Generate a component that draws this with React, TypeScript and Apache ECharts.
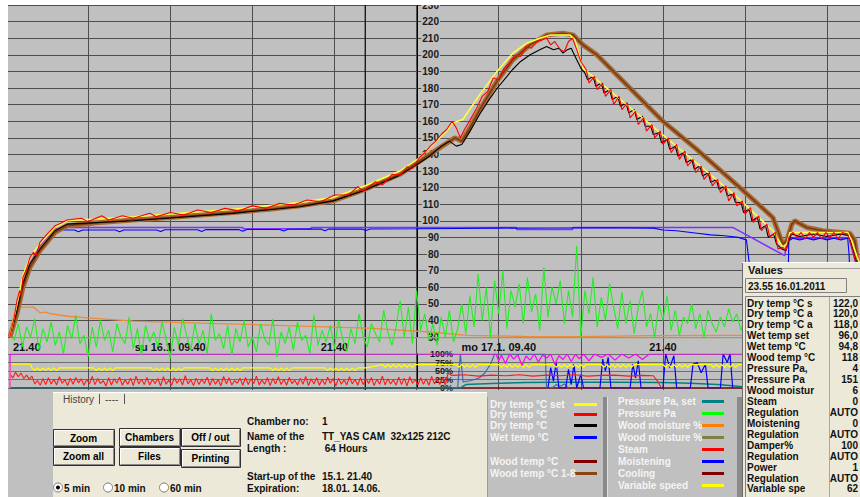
import React, { useEffect, useRef } from "react";
import * as echarts from "echarts";

const FONT = '"Liberation Sans", Arial, Helvetica, sans-serif';

// ---- time axis: hours since start-up (15.1. 21.40)
const X_MAX = 62.4;
const timeTickHours = [0, 12, 24, 36, 48];
const timeTickLabels = ["21.40", "su 16.1. 09.40", "21.40", "mo 17.1. 09.40", "21.40"];
const CURSOR_HOUR = 26.25;

// ---- main temperature chart (°C / Pa / %)
const dryTempSet = [
  [0.29, 30], [0.8, 50], [1.24, 67], [1.75, 78], [2.48, 86], [3.58, 96], [4.46, 100], [9.28, 102.5],
  [16.58, 107], [21.48, 111], [23.89, 114], [26.08, 120.5], [28.78, 130], [30.24, 138], [30.97, 144],
  [32.2, 154], [32.65, 159], [33.38, 161], [34.62, 176], [35.87, 190], [37.03, 201], [38.06, 207],
  [39.0, 210], [39.8, 212], [41.2, 212], [41.57, 209], [42.15, 192], [47.0, 158.6], [52.89, 118],
  [53.6, 113], [56.03, 94], [56.76, 84], [57.05, 86], [57.27, 93], [61.5, 93], [61.8, 88], [62.2, 78], [62.4, 74],
];

const dryTempA = [
  [0.29, 30], [0.6, 42], [0.8, 52], [1.0, 58], [1.1, 55], [1.24, 66], [1.5, 71], [1.75, 78], [2.0, 81], [2.2, 79],
  [2.48, 87], [3.0, 92], [3.58, 97], [4.0, 98.5], [4.46, 100.5], [5.5, 101.5], [6.0, 99.5], [7.0, 103], [7.5, 100.5],
  [8.5, 103], [9.3, 101.5], [10.5, 104.5], [11.0, 102.5], [12.0, 105], [13.0, 103.5], [14.0, 106.5], [15.0, 105],
  [16.0, 107.5], [17.0, 106], [18.0, 109], [19.0, 107.5], [20.0, 110.5], [21.0, 109.5], [22.0, 112.5], [23.0, 111.5],
  [24.0, 115.5], [25.0, 115.5], [25.7, 120.5], [26.1, 118], [27.0, 123.5], [27.5, 121.5], [28.2, 128], [28.8, 127.5],
  [29.3, 132.5], [29.7, 131.5], [30.2, 138], [30.6, 141], [31.0, 145], [31.4, 148], [31.8, 152], [32.2, 155],
  [32.6, 160], [32.9, 156], [33.2, 150], [33.5, 155], [34.0, 162], [34.4, 168], [34.8, 175], [35.2, 178], [35.6, 186],
  [36.0, 185], [36.4, 192], [36.8, 195], [37.2, 200], [37.6, 199], [38.0, 205], [38.4, 204], [38.8, 208], [39.2, 209],
  [39.5, 210], [39.8, 206], [40.1, 208], [40.5, 203], [40.8, 202], [41.1, 208], [41.4, 210], [41.71, 203], [42.0, 196],
  [42.4, 191], [42.6, 183], [43.0, 187], [43.2, 179], [43.6, 183], [43.8, 175], [44.2, 179], [44.4, 170], [44.8, 175],
  [45.0, 167], [45.4, 171], [45.6, 162], [46.0, 166], [46.2, 158], [46.6, 162], [46.8, 154], [47.2, 158], [47.4, 150],
  [47.8, 154], [48.0, 146], [48.4, 150], [48.6, 141], [49.0, 146], [49.2, 137], [49.6, 142], [49.8, 133], [50.2, 137],
  [50.4, 129], [50.8, 133], [51.0, 125], [51.4, 129], [51.6, 121], [52.0, 125], [52.2, 117], [52.6, 121], [52.8, 112],
  [53.2, 117], [53.4, 109], [53.8, 112], [54.0, 104], [54.4, 108], [54.6, 99], [55.0, 103], [55.2, 94], [55.6, 98],
  [55.8, 90], [56.2, 93], [56.4, 83], [56.76, 84], [57.0, 82], [57.2, 90], [57.5, 93], [57.8, 90], [58.1, 93],
  [58.4, 89], [58.7, 93], [59.0, 90], [59.3, 93], [59.6, 89], [59.9, 93], [60.2, 90], [60.5, 93], [60.8, 89],
  [61.1, 93], [61.5, 92], [61.8, 84], [62.2, 72],
];

const dryTempB = [
  [0.29, 30], [0.8, 46], [1.24, 62], [1.75, 74], [2.48, 83], [3.58, 94], [4.46, 98], [9.28, 100], [16.58, 104.5],
  [21.48, 108.5], [23.89, 112], [26.08, 118], [28.78, 127.5], [30.24, 135], [30.97, 139], [31.8, 145], [32.4, 148],
  [32.9, 145], [33.3, 146], [33.9, 154], [34.6, 164], [35.3, 173], [35.9, 180], [36.5, 186], [37.0, 191], [37.6, 196],
  [38.3, 200], [39.0, 203], [39.5, 205], [40.0, 203], [40.4, 204], [40.7, 201], [41.0, 203], [41.3, 204], [41.7, 197],
  [42.0, 192], [42.3, 189], [42.5, 185], [42.9, 187], [43.1, 181], [43.5, 183], [43.7, 177], [44.1, 179], [44.3, 173],
  [44.7, 175], [44.9, 169], [45.3, 171], [45.5, 165], [45.9, 167], [46.1, 161], [46.5, 163], [46.7, 157], [47.1, 157],
  [47.3, 152], [47.7, 153], [47.9, 147], [48.3, 149], [48.5, 143], [48.9, 145], [49.1, 139], [49.5, 141], [49.7, 135],
  [50.1, 137], [50.3, 131], [50.7, 133], [50.9, 127], [51.3, 129], [51.5, 123], [51.9, 125], [52.1, 119], [52.5, 121],
  [52.7, 115], [53.1, 116], [53.3, 111], [53.7, 111], [53.9, 105], [54.3, 107], [54.5, 100], [54.9, 102], [55.1, 95],
  [55.5, 97], [55.7, 90], [56.1, 92], [56.3, 86], [56.7, 83], [57.0, 82], [57.2, 88], [57.4, 92], [58.0, 90.5],
  [59.0, 92], [60.0, 90.5], [61.0, 92], [61.6, 91], [61.9, 82], [62.3, 70],
];

const wetTempSet = [
  [0.29, 30], [0.8, 47], [1.24, 62], [1.75, 74], [2.48, 85], [3.2, 92], [3.58, 95], [4.2, 96], [17.3, 96],
  [17.31, 95.2], [22.3, 95.2], [22.31, 96], [37.3, 96], [37.31, 94.8], [41.4, 94.8], [41.41, 96], [53.1, 96],
  [56.9, 79], [57.1, 89.5], [61.6, 89.5], [62.3, 68],
];

const wetTemp = [
  [0.29, 30], [0.8, 45], [1.24, 60], [1.75, 72], [2.48, 83], [3.2, 91], [3.58, 93.5], [4.2, 94.5], [5.0, 94.5],
  [5.3, 93.4], [5.6, 94.5], [8.0, 94.5], [8.3, 93.4], [8.6, 94.5], [11.0, 94.5], [11.3, 93.5], [11.6, 94.6],
  [14.0, 94.6], [14.3, 93.6], [14.6, 94.7], [17.0, 94.7], [17.3, 93.7], [17.6, 94.8], [20.0, 94.8], [20.3, 93.8],
  [20.6, 94.9], [23.0, 95], [23.3, 94], [23.6, 95], [26.0, 95], [26.3, 94.2], [26.6, 95.1], [30.0, 95.2],
  [33.0, 95.4], [36.0, 95.6], [40.0, 95.7], [44.0, 95.8], [47.3, 95.6], [48.0, 94.5], [49.0, 94], [50.5, 92.5],
  [51.5, 91.5], [52.5, 91], [53.5, 90], [54.1, 88.5], [54.3, 75], [54.5, 55], [55.0, 40], [57.1, 45], [57.2, 88],
  [57.5, 89.5], [58.0, 88.5], [58.5, 89.5], [59.0, 88.5], [59.5, 89.5], [60.0, 88.5], [60.5, 89.5], [61.0, 88.5],
  [61.5, 89.5], [61.6, 80], [61.7, 60], [62.0, 40],
];

const woodTemp18 = [
  [0.29, 30], [0.8, 44], [1.24, 60], [1.75, 72], [2.48, 82], [3.58, 93], [4.46, 97], [6.87, 99], [9.28, 100.5],
  [11.98, 102], [16.58, 105], [19.28, 107], [21.48, 109], [23.89, 112], [26.08, 118.5], [28.78, 128], [30.24, 136],
  [30.97, 140], [32.07, 146], [32.8, 150], [33.31, 148], [33.9, 156], [34.62, 167], [35.87, 184], [37.03, 197],
  [38.28, 206], [39.52, 212], [40.69, 213], [41.42, 212], [42.15, 206], [43.17, 200], [45.58, 180], [47.99, 160],
  [50.47, 143], [53.62, 120], [56.03, 102], [56.76, 86], [57.05, 88], [57.42, 98], [57.63, 100], [58.5, 96],
  [59.68, 94], [61.65, 92.5], [62.02, 88], [62.24, 75], [62.4, 70],
];

const woodMoisture = [
  [0.29, 31], [0.55, 42], [0.75, 47], [1.0, 48], [2.0, 48], [2.3, 46], [2.5, 44.5], [2.9, 45], [3.3, 44],
  [4.5, 42.5], [6.0, 41.5], [9.3, 39.6], [14.2, 38.4], [21.5, 36.6], [26.4, 35.4], [30.97, 33], [33.7, 31],
  [38.0, 30.3], [42.0, 30.2], [47.0, 30.8], [53.0, 31], [56.0, 31],
];

const woodMoisture2 = [[0.29, 29.6], [62.4, 29.6]];

// Pressure Pa, logged every 0.3 h from 0.3 h
const PRESSURE_START = 0.3;
const PRESSURE_STEP = 0.3;
const pressurePa = [
  34, 28, 38, 24, 36, 30, 41, 22, 35, 27, 39, 25, 33, 20, 37, 29, 43, 26, 31, 18,
  36, 24, 40, 28, 34, 21, 38, 30, 26, 42, 23, 35, 19, 37, 27, 33, 24, 39, 29, 17,
  36, 25, 41, 31, 22, 38, 26, 34, 20, 44, 28, 32, 23, 37, 19, 35, 27, 40, 24, 30,
  21, 38, 29, 25, 41, 18, 33, 26, 36, 22, 39, 28, 31, 20, 43, 25, 34, 27, 37, 23,
  40, 29, 21, 35, 26, 44, 30, 24, 38, 32, 27, 46, 33, 25,
  36, 52, 30, 48, 26, 58, 34, 44, 28,
  38, 25, 42, 30, 46, 27, 35, 50,
  32, 55, 36, 68, 40, 60, 30, 64, 44, 70, 35, 58,
  48, 62, 38, 66, 45, 56, 34, 72, 42, 60, 50, 64, 38, 58,
  42, 85, 30, 58, 44, 66, 36, 54, 40, 62, 48, 35, 57,
  38, 52, 32, 48, 58, 36, 44, 30, 50, 40, 55, 34, 46, 31, 42, 38, 50,
  35, 44, 30, 46, 38, 33, 42, 36, 47, 39, 44, 34, 41, 45,
];

// ---- lower percent strip (0..100 %)
const percentMajorTicks = [0, 50, 100];
const percentMinorTicks = [25, 75];

const damper = [
  [0.29, 0], [0.3, 100], [35.8, 100], [36.0, 80], [36.2, 96], [36.5, 72], [36.8, 100], [37.1, 85], [37.4, 98],
  [37.7, 66], [38.0, 94], [38.3, 82], [38.6, 100], [38.9, 76], [39.2, 97], [39.5, 88], [39.8, 100], [40.1, 70],
  [40.4, 95], [40.7, 84], [41.0, 100], [41.3, 78], [41.6, 99], [41.9, 86], [42.2, 100], [42.6, 80], [43.0, 100],
  [43.5, 90], [44.0, 100], [44.5, 82], [45.0, 100], [45.5, 88], [46.0, 100], [46.5, 84], [47.0, 100], [62.4, 100],
];

const variableSpeed = [
  [0.29, 0], [0.3, 70], [1.8, 70], [1.9, 59],
  [2.1, 51], [2.3, 59], [2.5, 51], [2.7, 59], [2.9, 51], [3.1, 59], [3.3, 51], [3.5, 59], [3.7, 51], [3.9, 59],
  [6.4, 59], [6.6, 51], [6.8, 59], [7.0, 51], [7.2, 59], [7.4, 51], [7.6, 59], [7.8, 51], [8.0, 59],
  [10.6, 59], [10.8, 51], [11.0, 59], [11.2, 51], [11.4, 59], [11.6, 51], [11.8, 59], [12.0, 51], [12.2, 59],
  [12.4, 51], [12.6, 59], [12.8, 51], [13.0, 59],
  [14.9, 59], [15.1, 51], [15.3, 59], [15.5, 51], [15.7, 59], [15.9, 51], [16.1, 59], [16.3, 51], [16.5, 59],
  [16.7, 51], [16.9, 59], [17.1, 51], [17.3, 59],
  [19.3, 59], [19.5, 51], [19.7, 59], [19.9, 51], [20.1, 59], [20.3, 51], [20.5, 59], [20.7, 51], [20.9, 59],
  [23.3, 59], [23.5, 51], [23.7, 59], [23.9, 51], [24.1, 59], [24.3, 51], [24.5, 59], [24.7, 51], [24.9, 59],
  [25.1, 51], [25.3, 59], [25.5, 51], [25.7, 59],
  [26.3, 59], [27.5, 69],
  [27.7, 61], [27.9, 69], [28.1, 61], [28.3, 69], [28.5, 61], [28.7, 69], [28.9, 61], [29.1, 69], [29.3, 61],
  [29.5, 69], [29.7, 61], [29.9, 69],
  [32.9, 69], [33.1, 61], [33.3, 69], [33.5, 61], [33.7, 69], [33.9, 61], [34.1, 69], [34.3, 61], [34.5, 69],
  [36.0, 69], [36.2, 61], [36.4, 69], [36.6, 61], [36.8, 69], [37.0, 61], [37.2, 69], [37.4, 61], [37.6, 69],
  [37.8, 61], [38.0, 69], [38.2, 61], [38.4, 69],
  [40.0, 69], [40.2, 61], [40.4, 69], [40.6, 61], [40.8, 69], [41.0, 61], [41.2, 69], [41.4, 61], [41.6, 69],
  [41.8, 61], [42.0, 69], [42.2, 61], [42.4, 69],
  [43.5, 69], [43.7, 61], [43.9, 69], [44.1, 61], [44.3, 69], [44.5, 61], [44.7, 69], [44.9, 61], [45.1, 69],
  [45.3, 61], [45.5, 69], [45.7, 61], [45.9, 69],
  [48.0, 69], [48.2, 61], [48.4, 69], [48.6, 61], [48.8, 69], [49.0, 61], [49.2, 69], [49.4, 61], [49.6, 69],
  [49.8, 61], [50.0, 69],
  [51.5, 69], [51.7, 61], [51.9, 69], [52.1, 61], [52.3, 69], [52.5, 61], [52.7, 69], [52.9, 61], [53.1, 69],
  [53.3, 61], [53.5, 69], [62.4, 69],
];

// Steam %, logged every 0.2 h from 0.3 h, then the later part
const STEAM_START = 0.3;
const STEAM_STEP = 0.2;
const steamLeft = [
  40, 30, 46, 33, 44, 28, 38, 26, 35, 12,
  22, 8, 28, 10, 30, 12, 26, 9, 33, 14, 24, 7, 29, 11, 31, 15, 27, 8, 25, 12,
  34, 10, 28, 13, 22, 6, 30, 9, 27, 14, 32, 8, 24, 11, 29, 7, 35, 12, 26, 10,
  31, 9, 25, 13, 28, 6, 33, 11, 23, 8, 30, 14, 27, 9, 36, 12, 24, 7, 29, 10,
  26, 13, 32, 8, 28, 11, 25, 6, 34, 12, 30, 9, 22, 14, 29, 8, 31, 10, 27, 13,
  35, 9, 24, 11, 30, 7, 28, 12, 33, 10, 26, 8, 31, 13, 23, 9, 29, 11, 34, 7,
  27, 12, 30, 8, 25, 10, 32, 14, 28, 6, 29, 11, 24, 9, 33, 12, 26, 8, 30, 10,
  28, 13, 31, 7, 26, 11, 35, 9, 27, 12, 24, 8, 32, 10, 29, 6, 33, 14, 25, 9,
  30, 11, 27, 8, 34, 12, 28, 10, 31, 9, 44, 38,
];
const steamRight = [
  [32.7, 37], [33.5, 39], [34.5, 35], [35.5, 38], [36.5, 36], [37.5, 39], [38.5, 35], [39.5, 38], [40.5, 36],
  [41.5, 39], [42.5, 35], [43.5, 37], [44.5, 38], [45.5, 35], [46.5, 37], [47.3, 36], [47.6, 20], [47.9, 0],
];

const pressureSet = [
  [0.29, 0], [33.2, 0], [33.6, 10], [34.5, 12], [36.0, 14], [38.0, 16], [40.0, 17], [44.0, 17], [48.0, 16],
  [50.0, 14], [52.0, 10], [53.5, 5], [54.5, 2], [62.4, 2],
];

const valve = [
  [32.6, 0], [33.0, 0], [33.2, 100], [33.4, 18], [34.0, 22], [34.6, 30], [35.0, 45], [35.4, 70], [35.7, 100],
  [39.4, 100], [39.5, 0], [39.9, 0], [40.2, 10], [40.5, 5], [40.8, 12], [41.1, 0],
];

const moistening = [
  [39.6, 0], [39.8, 60], [40.0, 20], [40.2, 75], [40.4, 0], [40.9, 0], [41.1, 55], [41.3, 10], [41.5, 70], [41.7, 0],
  [42.0, 40], [42.2, 0], [43.4, 0], [43.6, 85], [43.8, 50], [44.0, 90], [44.2, 0], [45.6, 0], [45.8, 70], [46.0, 30],
  [46.2, 80], [46.4, 0], [48.0, 0], [48.2, 100], [48.5, 60], [48.8, 95], [49.0, 0], [50.0, 0], [50.2, 70], [50.5, 75],
  [50.8, 45], [51.1, 70], [51.3, 0], [52.2, 0], [52.4, 100], [52.7, 75], [52.9, 100], [53.1, 0],
];

const cooling = [[0.29, 0], [62.4, 0]];

// ---- panels
const legendLeft = ["Dry temp °C set", "Dry temp °C", "Dry temp °C", "Wet temp °C", "", "Wood temp °C", "Wood temp °C 1-8"];
const legendLeftColors = ["#ffff00", "#ff0000", "#000000", "#0000ff", "", "#800000", "#8b4513"];
const legendLeftY = [404, 414, 425, 437, 449, 461, 473];
const legendRight = ["Pressure Pa, set", "Pressure Pa", "Wood moisture %", "Wood moisture %", "Steam", "Moistening", "Cooling", "Variable speed"];
const legendRightColors = ["#008080", "#00ff00", "#ff8000", "#808040", "#ff0000", "#0000ff", "#800000", "#ffff00"];
const legendRightY = [401, 413, 425, 437, 449, 461, 473, 485];

const valueNames = [
  "Dry temp °C s", "Dry temp °C a", "Dry temp °C a", "Wet temp set", "Wet temp °C", "Wood temp °C", "Pressure Pa,",
  "Pressure Pa", "Wood moistur", "Steam", "Regulation", "Moistening", "Regulation", "Damper%", "Regulation", "Power",
  "Regulation", "Variable spe",
];
const valueTexts = ["122,0", "120,0", "118,0", "96,0", "94,8", "118", "4", "151", "6", "0", "AUTO", "0", "AUTO", "100", "AUTO", "1", "AUTO", "62"];
const cursorStamp = "23.55 16.01.2011";

const infoLabels = ["Chamber no:", "Name of the", "Length :", "Start-up of the", "Expiration:"];
const infoValues = ["1", "TT_YAS CAM  32x125 212C", " 64 Hours", "15.1. 21.40", "18.01. 14.06."];
const infoY = [421, 436, 448, 476, 488];

const buttons = [
  { label: "Zoom", x: 53, y: 429, w: 61, h: 17 },
  { label: "Chambers", x: 119, y: 428, w: 61, h: 18 },
  { label: "Off / out", x: 181, y: 428, w: 59, h: 18 },
  { label: "Zoom all", x: 53, y: 447, w: 61, h: 18 },
  { label: "Files", x: 119, y: 447, w: 61, h: 18 },
  { label: "Printing", x: 181, y: 449, w: 59, h: 18 },
];
const radios = [
  { label: "5 min", x: 58, checked: true },
  { label: "10 min", x: 108, checked: false },
  { label: "60 min", x: 164, checked: false },
];

function txt(x: number, y: number, text: string, opts: any = {}) {
  return {
    type: "text",
    x,
    y,
    z: opts.z ?? 110,
    style: {
      text,
      fill: opts.fill ?? "#111",
      font: opts.font ?? `bold 10px ${FONT}`,
      textAlign: opts.align ?? "left",
      textVerticalAlign: "middle",
      align: opts.align ?? "left",
      verticalAlign: "middle",
    },
  };
}
function ln(x1: number, y1: number, x2: number, y2: number, stroke: string, w = 1, z = 105) {
  return { type: "line", z, shape: { x1, y1, x2, y2 }, style: { stroke, lineWidth: w } };
}
function rc(x: number, y: number, w: number, h: number, fill: string, stroke?: string, z = 100) {
  return {
    type: "rect",
    z,
    shape: { x, y, width: w, height: h },
    style: stroke ? { fill, stroke, lineWidth: 1 } : { fill },
  };
}

function buildGraphics() {
  const g: any[] = [];
  // white page margins
  g.push(rc(0, 0, 8, 497, "#ffffff", undefined, 120));
  g.push(rc(0, 0, 860, 5, "#ffffff", undefined, 120));

  // lower beige panel
  g.push(rc(53, 392, 434, 105, "#ece9d8"));
  g.push(ln(53, 392.5, 487, 392.5, "#ffffff", 1));
  g.push(txt(63, 399, "History", { font: `10px ${FONT}`, fill: "#444" }));
  g.push(ln(99.5, 394, 99.5, 404, "#555", 1));
  g.push(txt(105, 399, "----", { font: `10px ${FONT}`, fill: "#444" }));
  g.push(ln(124.5, 394, 124.5, 404, "#555", 1));

  buttons.forEach((b) => {
    const x = b.x + 0.5, y = b.y + 0.5;
    g.push(rc(x, y, b.w, b.h, "#ece9d8", "#303030", 101));
    g.push(ln(x + 1, y + 1, x + b.w - 1, y + 1, "#ffffff", 1, 102));
    g.push(ln(x + 1, y + 1, x + 1, y + b.h - 1, "#ffffff", 1, 102));
    g.push(ln(x + 1, y + b.h - 1, x + b.w - 1, y + b.h - 1, "#8a8a8a", 1, 102));
    g.push(ln(x + b.w - 1, y + 1, x + b.w - 1, y + b.h - 1, "#8a8a8a", 1, 102));
    g.push(txt(b.x + b.w / 2, b.y + b.h / 2 + 0.5, b.label, { align: "center", fill: "#000" }));
  });

  radios.forEach((r) => {
    g.push({ type: "circle", z: 101, shape: { cx: r.x, cy: 487.5, r: 4.5 }, style: { fill: "#ffffff", stroke: "#7a7a7a", lineWidth: 1 } });
    if (r.checked) g.push({ type: "circle", z: 102, shape: { cx: r.x, cy: 487.5, r: 2 }, style: { fill: "#000" } });
    g.push(txt(r.x + 6, 488, r.label));
  });

  infoLabels.forEach((l, i) => {
    g.push(txt(247, infoY[i], l));
    g.push(txt(322, infoY[i], infoValues[i]));
  });

  // legend panel
  g.push(rc(487, 397, 253, 100, "#c0c0c0"));
  g.push(ln(487.5, 397, 487.5, 497, "#9a9a9a", 1));
  g.push(rc(603, 397, 4, 100, "#8a8a8a", undefined, 101));
  g.push(ln(607.5, 397, 607.5, 497, "#e0e0e0", 1, 102));
  g.push(rc(737, 397, 5, 100, "#8a8a8a", undefined, 101));
  legendLeft.forEach((l, i) => {
    if (!l) return;
    g.push(txt(490, legendLeftY[i], l, { fill: "#f4f4f4" }));
    g.push(ln(574, legendLeftY[i] + 0.5, 597, legendLeftY[i] + 0.5, legendLeftColors[i], 3, 106));
  });
  legendRight.forEach((l, i) => {
    g.push(txt(618, legendRightY[i], l, { fill: "#f4f4f4" }));
    g.push(ln(702, legendRightY[i] + 0.5, 724, legendRightY[i] + 0.5, legendRightColors[i], 3, 106));
  });

  // values panel
  g.push(rc(742, 262, 118, 235, "#ece9d8"));
  g.push(ln(742.5, 262, 742.5, 497, "#6a6a6a", 1));
  g.push(ln(742, 262.5, 860, 262.5, "#ffffff", 1));
  g.push(ln(776, 268.5, 860, 268.5, "#a0a0a0", 1));
  g.push(txt(748, 270, "Values", { font: `bold 11px ${FONT}` }));
  g.push(rc(745.5, 278.5, 101, 14, "#ece9d8", "#808080", 103));
  g.push(txt(748, 286, cursorStamp));
  g.push(rc(745.5, 296.5, 120, 205, "#ece9d8", "#808080", 103));
  g.push(ln(829.5, 297, 829.5, 497, "#a8a8a8", 1, 104));
  valueNames.forEach((n, i) => {
    const y = 303 + i * 10.94;
    g.push(txt(747, y, n));
    g.push(txt(858, y, valueTexts[i], { align: "right" }));
  });
  return g;
}

function lineSeries(name: string, data: any[], color: string, width: number, axis: number, extra: any = {}) {
  return {
    type: "line",
    name,
    data,
    xAxisIndex: axis,
    yAxisIndex: axis,
    showSymbol: false,
    symbol: "none",
    silent: true,
    lineStyle: { color, width },
    z: 3,
    ...extra,
  };
}

export default function App() {
  const ref = useRef<HTMLDivElement>(null);
  useEffect(() => {
    if (!ref.current) return;
    const chart = echarts.init(ref.current, null, { renderer: "svg", width: 860, height: 497 });

    const pressureData = pressurePa.map((v, i) => [+(PRESSURE_START + i * PRESSURE_STEP).toFixed(2), v]);
    const steamData = steamLeft
      .map((v, i) => [+(STEAM_START + i * STEAM_STEP).toFixed(2), v])
      .concat(steamRight);

    const labelFont = { fontFamily: FONT, fontWeight: "bold" as const };
    const pctLabel = {
      inside: true, align: "right", margin: 36, fontSize: 9, color: "#1a1a1a", ...labelFont,
      formatter: "{value}%", showMinLabel: true, showMaxLabel: true,
    };

    const option: any = {
      animation: false,
      backgroundColor: "#c0c0c0",
      grid: [
        { left: 6, right: 0, top: 5, bottom: 107 },
        { left: 6, right: 0, top: 4, bottom: 160 },
        { left: 6, right: 0, top: 354, bottom: 109 },
      ],
      xAxis: [
        {
          gridIndex: 0, type: "value", min: 0, max: X_MAX, interval: 6,
          axisLine: { show: false }, axisTick: { show: false }, axisLabel: { show: false },
          splitLine: { show: true, lineStyle: { color: "#4e4e4e", width: 1 } },
        },
        {
          gridIndex: 1, type: "value", min: 0, max: X_MAX, interval: 6,
          axisLine: { show: false }, axisTick: { show: false }, splitLine: { show: false },
          axisLabel: {
            show: true, margin: 4, fontSize: 11, color: "#111", ...labelFont,
            alignMinLabel: "left", showMinLabel: true, showMaxLabel: false,
            formatter: (v: number) => {
              const i = timeTickHours.indexOf(Math.round(v * 100) / 100);
              if (i < 0) return "";
              return i === 0 ? `{first|${timeTickLabels[0]}}` : timeTickLabels[i];
            },
            rich: { first: { padding: [0, 0, 0, 7], fontSize: 11, color: "#111", ...labelFont } },
          },
        },
        { gridIndex: 2, type: "value", min: 0, max: X_MAX, show: false },
      ],
      yAxis: [
        { gridIndex: 0, type: "value", min: 0, max: 1, show: false },
        {
          gridIndex: 1, type: "value", min: 30, max: 230, interval: 10, position: "left", offset: -411,
          axisLine: { show: true, lineStyle: { color: "#000", width: 1 } },
          axisTick: { show: false },
          splitLine: { show: true, lineStyle: { color: "#4e4e4e", width: 1 } },
          axisLabel: {
            inside: true, align: "right", margin: 23, fontSize: 10, color: "#1a1a1a", ...labelFont,
            backgroundColor: "#c0c0c0", padding: [0, 1, 0, 1],
          },
        },
        {
          gridIndex: 2, type: "value", min: 0, max: 100, interval: 25, position: "left", offset: -411,
          axisLine: { show: true, lineStyle: { color: "#000", width: 1 } },
          axisTick: { show: false },
          splitLine: { show: true, lineStyle: { color: "#6e6e6e", width: 1 } },
          axisLabel: { ...pctLabel, customValues: percentMajorTicks },
        },
        {
          gridIndex: 2, type: "value", min: 0, max: 100, interval: 25, position: "left", offset: -411,
          axisLine: { show: false }, axisTick: { show: false }, splitLine: { show: false },
          axisLabel: { ...pctLabel, customValues: percentMinorTicks },
        },
      ],
      graphic: { elements: buildGraphics() },
      series: [
        lineSeries("cursor", [[CURSOR_HOUR, 0], [CURSOR_HOUR, 1]], "#000000", 1.2, 0),
        // percent strip
        lineSeries("Cooling", cooling, "#800000", 1.5, 2),
        lineSeries("Pressure Pa, set", pressureSet, "#008080", 1.5, 2),
        lineSeries("Valve", valve, "#3a6ab0", 1.2, 2),
        lineSeries("Moistening", moistening, "#0000ff", 1.2, 2),
        lineSeries("Steam", steamData, "#ff1a1a", 1.1, 2),
        lineSeries("Variable speed", variableSpeed, "#ffff00", 1.2, 2),
        lineSeries("Damper%", damper, "#ff00ff", 1.2, 2),
        // main chart
        lineSeries("Wood moisture % 2", woodMoisture2, "#9c9a6a", 1.2, 1, { clip: false }),
        lineSeries("Wood moisture %", woodMoisture, "#ee8a3c", 1.3, 1),
        lineSeries("Pressure Pa", pressureData, "#22ee22", 1.1, 1, { clip: false }),
        lineSeries("Wet temp set", wetTempSet, "#7f2fff", 1.5, 1),
        lineSeries("Wet temp °C", wetTemp, "#0000ff", 1.1, 1),
        lineSeries("Wood temp °C 1-8 band", woodTemp18, "#a86a34", 5, 1),
        lineSeries("Wood temp °C 1-8", woodTemp18, "#7a3a10", 1.6, 1),
        lineSeries("Dry temp °C b", dryTempB, "#000000", 1.1, 1),
        lineSeries("Dry temp °C set", dryTempSet, "#ffff40", 1.5, 1),
        lineSeries("Dry temp °C a", dryTempA, "#ff0000", 1.1, 1),
      ],
    };
    chart.setOption(option);
    return () => chart.dispose();
  }, []);
  return (
    <div
      ref={ref}
      style={{ position: "fixed", left: 0, top: 0, width: 860, height: 497, background: "#ffffff" }}
    />
  );
}
